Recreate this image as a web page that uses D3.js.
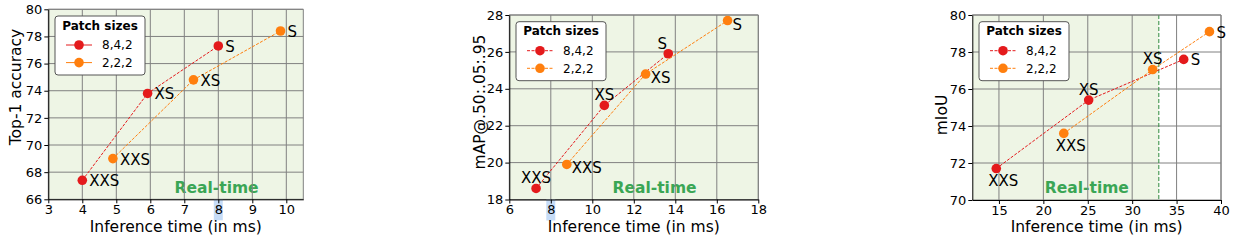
<!DOCTYPE html>
<html>
<head>
<meta charset="utf-8">
<script src="https://cdn.jsdelivr.net/npm/d3@7"></script>
<style>
  body { margin: 0; background: #fff; }
  svg { font-family: "DejaVu Sans", sans-serif; display: block; }
</style>
</head>
<body>
<svg id="fig" width="1238" height="242"></svg>
<script>
// model variants and patch-size settings
var variants = ["XXS", "XS", "S"];
var seriesNames = ["8,4,2", "2,2,2"];

// classification (ImageNet top-1)
var clsTime842 = [4.0, 5.92, 8.0];
var clsTop1_842 = [67.4, 73.8, 77.3];
var clsTime222 = [4.9, 7.27, 9.83];
var clsTop1_222 = [69.0, 74.8, 78.4];
var clsXTicks = [3, 4, 5, 6, 7, 8, 9, 10];
var clsYTicks = [66, 68, 70, 72, 74, 76, 78, 80];

// detection (mAP)
var detTime842 = [7.29, 10.58, 13.66];
var detMap842 = [18.6, 23.1, 25.9];
var detTime222 = [8.77, 12.57, 16.52];
var detMap222 = [19.9, 24.8, 27.7];
var detXTicks = [6, 8, 10, 12, 14, 16, 18];
var detYTicks = [18, 20, 22, 24, 26, 28];

// segmentation (mIoU)
var segTime842 = [14.7, 25.1, 35.8];
var segMiou842 = [71.7, 75.4, 77.6];
var segTime222 = [22.3, 32.3, 38.7];
var segMiou222 = [73.6, 77.05, 79.1];
var segXTicks = [15, 20, 25, 30, 35, 40];
var segYTicks = [70, 72, 74, 76, 78, 80];

var realTimeMs = 33;

var colors = ["#e41a1c", "#ff7f0e"];
var svg = d3.select("#fig");

var charts = [
  {
    x: [clsTime842, clsTime222], y: [clsTop1_842, clsTop1_222],
    xTicks: clsXTicks, yTicks: clsYTicks, xDom: [3, 10.5], yDom: [66, 80],
    box: {left: 48.3, right: 303.3, top: 9.3, bottom: 199.3},
    ylabel: "Top-1 accuracy", ylabelPos: [16, 87],
    place: [["right", "right", "right"], ["right", "right", "right"]],
    highlight: 8, rtText: [7.95, 66.5], legendSolid: true
  },
  {
    x: [detTime842, detTime222], y: [detMap842, detMap222],
    xTicks: detXTicks, yTicks: detYTicks, xDom: [6, 18], yDom: [18, 28],
    box: {left: 509.3, right: 758.3, top: 15, bottom: 199.5},
    ylabel: "mAP@.50:.05:.95", ylabelPos: [480, 102],
    place: [["above", "above", "aboveLeft"], ["rightLow", "rightLow", "rightLow"]],
    highlight: 8, rtText: [13.0, 18.33], legendSolid: false
  },
  {
    x: [segTime842, segTime222], y: [segMiou842, segMiou222],
    xTicks: segXTicks, yTicks: segYTicks, xDom: [12, 40], yDom: [70, 80],
    box: {left: 972.3, right: 1221, top: 15, bottom: 200},
    ylabel: "mIoU", ylabelPos: [942, 115],
    place: [["below", "above", "right"], ["below", "above", "right"]],
    highlight: null, rtText: [24.9, 70.36], legendSolid: false
  }
];

// label offsets (dx, baseline dy, anchor)
var labelOffsets = {
  right: [7, 6, "start"],
  rightLow: [5, 9, "start"],
  above: [0, -5.5, "middle"],
  aboveLeft: [-6, -5, "middle"],
  below: [7, 17.5, "middle"]
};

charts.forEach(function(c) {
  var b = c.box;
  var x = d3.scaleLinear().domain(c.xDom).range([b.left, b.right]);
  var y = d3.scaleLinear().domain(c.yDom).range([b.bottom, b.top]);
  var g = svg.append("g");

  // real-time region
  var rtEnd = Math.min(realTimeMs, c.xDom[1]);
  g.append("rect")
    .attr("x", x(c.xDom[0])).attr("y", b.top)
    .attr("width", x(rtEnd) - x(c.xDom[0]))
    .attr("height", b.bottom - b.top)
    .attr("fill", "#eef5e5");

  g.append("text")
    .attr("x", x(c.rtText[0])).attr("y", y(c.rtText[1]))
    .attr("text-anchor", "middle")
    .attr("font-weight", "bold").attr("font-size", "15.5px")
    .attr("fill", "#3aa655")
    .text("Real-time");

  // grid
  g.append("g").selectAll("line").data(c.xTicks).join("line")
    .attr("x1", d => x(d)).attr("x2", d => x(d))
    .attr("y1", b.top).attr("y2", b.bottom)
    .attr("stroke", "#808080").attr("stroke-width", 1);
  g.append("g").selectAll("line").data(c.yTicks).join("line")
    .attr("y1", d => y(d)).attr("y2", d => y(d))
    .attr("x1", b.left).attr("x2", b.right)
    .attr("stroke", "#808080").attr("stroke-width", 1);

  if (realTimeMs < c.xDom[1]) {
    g.append("line")
      .attr("x1", x(realTimeMs)).attr("x2", x(realTimeMs))
      .attr("y1", b.top).attr("y2", b.bottom)
      .attr("stroke", "#2e8b3e").attr("stroke-width", 1)
      .attr("stroke-dasharray", "4,2");
  }

  // top and right frame
  g.append("path")
    .attr("d", `M${b.left},${b.top}H${b.right}V${b.bottom}`)
    .attr("fill", "none").attr("stroke", "#808080");

  // highlighted tick label
  if (c.highlight != null) {
    g.append("rect")
      .attr("x", x(c.highlight) - 4.5).attr("y", b.bottom)
      .attr("width", 9).attr("height", 21)
      .attr("fill", "#c6dcf7");
  }

  // axes
  g.append("g")
    .attr("transform", `translate(0,${b.bottom})`)
    .call(d3.axisBottom(x).tickValues(c.xTicks).tickSize(4).tickPadding(1.5).tickSizeOuter(0))
    .call(a => a.selectAll("text").attr("font-size", "13px").attr("fill", "#000").attr("font-family", "DejaVu Sans"))
    .call(a => a.selectAll("line, path").attr("stroke", "#000"));
  g.append("g")
    .attr("transform", `translate(${b.left},0)`)
    .call(d3.axisLeft(y).tickValues(c.yTicks).tickSize(4).tickPadding(2).tickSizeOuter(0))
    .call(a => a.selectAll("text").attr("font-size", "13px").attr("fill", "#000").attr("font-family", "DejaVu Sans"))
    .call(a => a.selectAll("line, path").attr("stroke", "#000"));

  // axis labels
  g.append("text")
    .attr("x", (b.left + b.right) / 2).attr("y", 231.5)
    .attr("text-anchor", "middle").attr("font-size", "15.5px")
    .text("Inference time (in ms)");
  g.append("text")
    .attr("transform", `translate(${c.ylabelPos[0]},${c.ylabelPos[1]}) rotate(-90)`)
    .attr("text-anchor", "middle").attr("dy", "0.35em").attr("font-size", "15.5px")
    .text(c.ylabel);

  // series
  [0, 1].forEach(function(s) {
    var pts = c.x[s].map((v, i) => ({t: v, v: c.y[s][i], name: variants[i], place: c.place[s][i]}));
    var line = d3.line().x(d => x(d.t)).y(d => y(d.v));
    g.append("path")
      .datum(pts)
      .attr("d", line)
      .attr("fill", "none").attr("stroke", colors[s])
      .attr("stroke-width", 1).attr("stroke-dasharray", "3,1.5");
    g.append("g").selectAll("circle").data(pts).join("circle")
      .attr("cx", d => x(d.t)).attr("cy", d => y(d.v)).attr("r", 4.8)
      .attr("fill", colors[s]);
    g.append("g").selectAll("text").data(pts).join("text")
      .attr("x", d => x(d.t) + labelOffsets[d.place][0])
      .attr("y", d => y(d.v) + labelOffsets[d.place][1])
      .attr("text-anchor", d => labelOffsets[d.place][2])
      .attr("font-size", "15px")
      .text(d => d.name);
  });

  // legend
  var lx = b.left + 6.7, ly = b.top + 6.7;
  var lg = g.append("g").attr("transform", `translate(${lx},${ly})`);
  lg.append("rect")
    .attr("width", 90).attr("height", 59).attr("rx", 3)
    .attr("fill", "#fff").attr("stroke", "#555").attr("stroke-width", 1);
  lg.append("text")
    .attr("x", 45).attr("y", 13.8).attr("text-anchor", "middle")
    .attr("font-weight", "bold").attr("font-size", "12px")
    .text("Patch sizes");
  seriesNames.forEach(function(n, s) {
    var ry = 29 + s * 17.6;
    lg.append("line")
      .attr("x1", 11).attr("x2", 37).attr("y1", ry).attr("y2", ry)
      .attr("stroke", colors[s]).attr("stroke-width", 1)
      .attr("stroke-dasharray", c.legendSolid ? null : "3,1.5");
    lg.append("circle").attr("cx", 24).attr("cy", ry).attr("r", 4.8).attr("fill", colors[s]);
    lg.append("text")
      .attr("x", 47).attr("y", ry + 4.3).attr("font-size", "12px")
      .text(n);
  });
});
</script>
</body>
</html>
